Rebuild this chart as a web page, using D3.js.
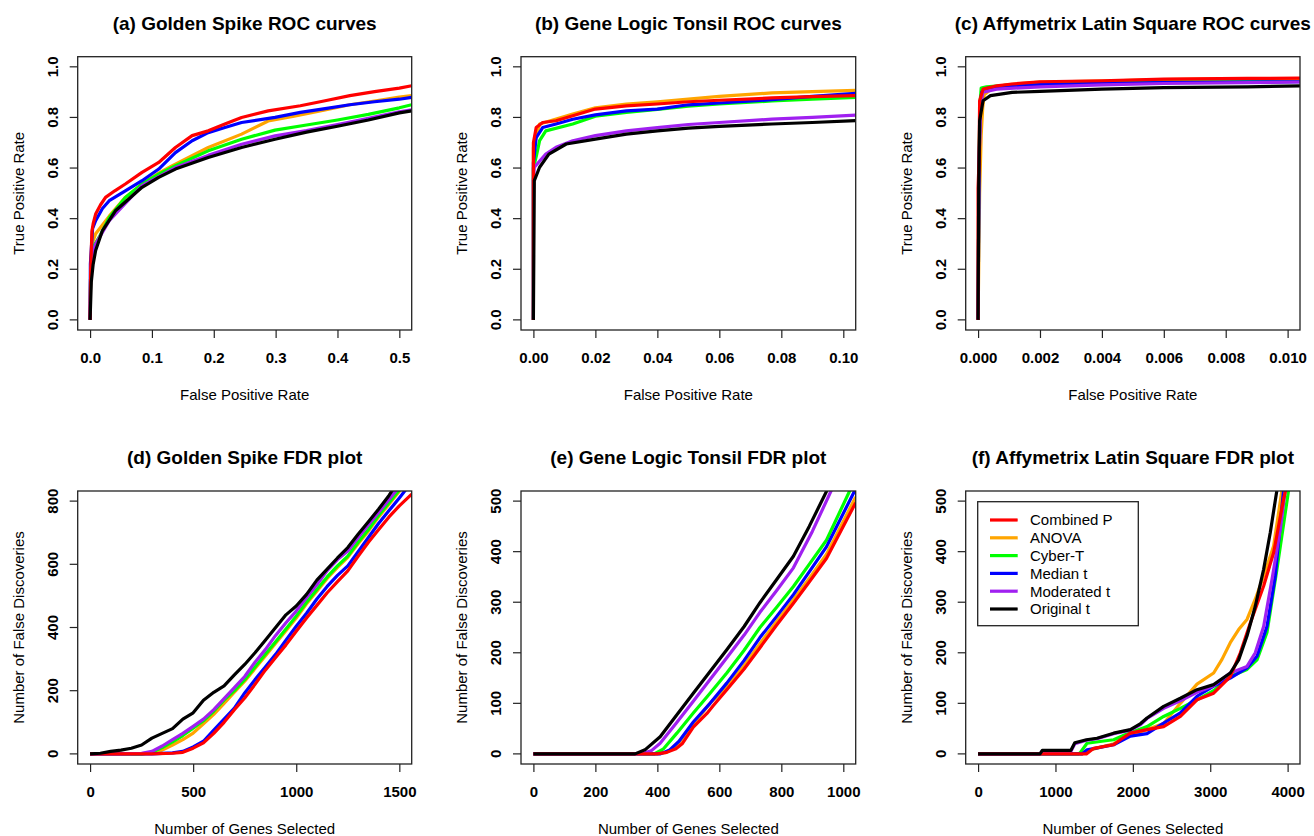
<!DOCTYPE html>
<html>
<head>
<meta charset="utf-8">
<script src="https://cdn.jsdelivr.net/npm/d3@7"></script>
<style>
  body { margin: 0; background: #fff; }
  svg { display: block; font-family: "Liberation Sans", Arial, sans-serif; }
</style>
</head>
<body>
<svg id="chart" width="1314" height="836"></svg>
<script>
// methods, colours (same order in every series list below)
const methods = ["Combined P", "ANOVA", "Cyber-T", "Median t", "Moderated t", "Original t"];
const colors = ["#FF0000", "#FFA500", "#00FF00", "#0000FF", "#A020F0", "#000000"];

// (a) Golden Spike ROC  [fpr, tpr]
const gsRoc = [
  [[0,0],[0.001,0.2],[0.003,0.35],[0.005,0.38],[0.009,0.418],[0.017,0.455],[0.025,0.484],[0.04,0.51],[0.057,0.537],[0.084,0.583],[0.111,0.622],[0.138,0.681],[0.165,0.728],[0.191,0.747],[0.218,0.774],[0.245,0.8],[0.288,0.826],[0.34,0.846],[0.38,0.866],[0.42,0.886],[0.46,0.902],[0.5,0.916],[0.52,0.925]],
  [[0,0],[0.001,0.2],[0.003,0.3],[0.009,0.34],[0.031,0.41],[0.057,0.484],[0.084,0.537],[0.111,0.58],[0.13,0.605],[0.149,0.629],[0.191,0.681],[0.245,0.734],[0.288,0.786],[0.33,0.805],[0.38,0.83],[0.42,0.85],[0.46,0.865],[0.5,0.88],[0.52,0.886]],
  [[0,0],[0.001,0.2],[0.003,0.28],[0.0145,0.326],[0.031,0.405],[0.057,0.484],[0.084,0.537],[0.111,0.576],[0.138,0.609],[0.191,0.668],[0.245,0.714],[0.299,0.75],[0.35,0.77],[0.4,0.79],[0.45,0.812],[0.5,0.838],[0.52,0.85]],
  [[0,0],[0.0005,0.22],[0.004,0.36],[0.009,0.392],[0.02,0.44],[0.031,0.471],[0.057,0.51],[0.084,0.55],[0.111,0.596],[0.138,0.661],[0.165,0.708],[0.191,0.74],[0.218,0.76],[0.245,0.78],[0.299,0.8],[0.34,0.82],[0.38,0.835],[0.42,0.85],[0.46,0.862],[0.5,0.872],[0.52,0.879]],
  [[0,0],[0.001,0.2],[0.004,0.26],[0.009,0.3],[0.031,0.392],[0.057,0.46],[0.084,0.53],[0.138,0.602],[0.191,0.65],[0.245,0.694],[0.299,0.727],[0.35,0.748],[0.4,0.772],[0.45,0.797],[0.5,0.822],[0.52,0.83]],
  [[0,0],[0.002,0.15],[0.005,0.22],[0.009,0.274],[0.02,0.353],[0.041,0.431],[0.084,0.524],[0.111,0.563],[0.138,0.596],[0.191,0.642],[0.245,0.681],[0.299,0.714],[0.35,0.742],[0.4,0.765],[0.45,0.79],[0.5,0.818],[0.52,0.826]]
];

// (b) Gene Logic Tonsil ROC
const glRoc = [
  [[0,0],[0,0.7],[0.0009,0.76],[0.003,0.78],[0.0073,0.787],[0.0127,0.807],[0.02,0.833],[0.03,0.846],[0.04,0.853],[0.05,0.862],[0.06,0.868],[0.077,0.877],[0.09,0.882],[0.104,0.886]],
  [[0,0],[0,0.68],[0.002,0.774],[0.0127,0.813],[0.02,0.838],[0.03,0.853],[0.04,0.862],[0.06,0.883],[0.077,0.897],[0.09,0.902],[0.104,0.907]],
  [[0,0],[0,0.6],[0.001,0.65],[0.002,0.708],[0.004,0.747],[0.0127,0.774],[0.02,0.805],[0.03,0.82],[0.04,0.832],[0.05,0.845],[0.06,0.853],[0.077,0.865],[0.09,0.872],[0.104,0.879]],
  [[0,0],[0,0.62],[0.0009,0.72],[0.003,0.76],[0.0073,0.774],[0.0127,0.793],[0.02,0.81],[0.03,0.826],[0.04,0.833],[0.05,0.85],[0.06,0.857],[0.077,0.87],[0.09,0.883],[0.104,0.895]],
  [[0,0],[0,0.55],[0.0003,0.603],[0.004,0.655],[0.0073,0.682],[0.0127,0.708],[0.02,0.728],[0.03,0.747],[0.04,0.76],[0.05,0.772],[0.06,0.78],[0.077,0.793],[0.09,0.8],[0.104,0.809]],
  [[0,0],[0.0003,0.55],[0.002,0.603],[0.005,0.655],[0.0106,0.695],[0.02,0.714],[0.03,0.734],[0.04,0.747],[0.05,0.758],[0.06,0.765],[0.077,0.774],[0.09,0.78],[0.104,0.787]]
];

// (c) Affymetrix Latin Square ROC
const lsRoc = [
  [[0,0],[0,0.52],[0.00003,0.63],[0.00005,0.866],[0.00016,0.912],[0.0006,0.925],[0.0011,0.932],[0.002,0.941],[0.004,0.945],[0.006,0.951],[0.0087,0.954],[0.0104,0.955]],
  [[0,0],[0.00005,0.5],[0.0001,0.73],[0.00015,0.84],[0.0002,0.89],[0.0005,0.92],[0.001,0.93],[0.002,0.94],[0.004,0.944],[0.006,0.95],[0.008,0.952],[0.0104,0.953]],
  [[0,0],[0.00003,0.6],[0.00006,0.85],[0.0001,0.916],[0.00027,0.921],[0.001,0.928],[0.002,0.935],[0.004,0.938],[0.006,0.94],[0.0104,0.942]],
  [[0,0],[0.00003,0.6],[0.00007,0.85],[0.00012,0.9],[0.0003,0.915],[0.001,0.925],[0.002,0.93],[0.004,0.935],[0.006,0.938],[0.0104,0.941]],
  [[0,0],[0.00003,0.6],[0.00008,0.85],[0.00016,0.9],[0.0006,0.912],[0.002,0.921],[0.004,0.929],[0.006,0.934],[0.0104,0.94]],
  [[0,0],[0.00002,0.52],[0.00005,0.787],[0.00016,0.866],[0.0004,0.886],[0.0011,0.899],[0.002,0.903],[0.004,0.912],[0.006,0.918],[0.0087,0.921],[0.0104,0.925]]
];

// (d) Golden Spike FDR  [genes selected, false discoveries]
const gsFdr = [
  [[0,0],[300,0],[400,2],[450,5],[500,18],[550,35],[600,65],[650,100],[700,140],[750,177],[800,220],[850,265],[900,305],[950,345],[1000,388],[1050,430],[1100,470],[1150,510],[1200,545],[1250,579],[1300,625],[1350,670],[1400,710],[1450,750],[1500,785],[1560,822]],
  [[0,0],[250,0],[300,3],[350,12],[400,28],[450,45],[500,66],[550,95],[600,125],[650,160],[700,195],[750,230],[800,270],[850,310],[900,350],[950,390],[1000,430],[1050,475],[1100,515],[1150,555],[1200,590],[1250,622],[1300,665],[1350,705],[1400,750],[1450,790],[1505,835]],
  [[0,0],[250,0],[300,5],[350,20],[400,38],[450,58],[500,81],[550,105],[600,135],[650,170],[700,200],[750,235],[800,275],[850,315],[900,355],[950,395],[1000,436],[1050,480],[1100,520],[1150,560],[1200,595],[1250,626],[1300,670],[1350,710],[1400,755],[1450,795],[1500,835]],
  [[0,0],[300,0],[400,3],[450,8],[500,22],[550,40],[600,75],[650,110],[700,145],[750,193],[800,235],[850,275],[900,315],[950,360],[1000,404],[1050,445],[1100,490],[1150,530],[1200,565],[1250,595],[1300,640],[1350,685],[1400,730],[1450,770],[1500,810],[1530,835]],
  [[0,0],[150,0],[250,2],[300,8],[350,25],[400,45],[450,65],[500,87],[550,110],[600,140],[650,175],[700,210],[750,245],[800,290],[850,330],[900,375],[950,415],[1000,452],[1050,495],[1100,535],[1150,580],[1200,615],[1250,642],[1300,685],[1350,725],[1400,765],[1450,805],[1490,838]],
  [[0,0],[50,2],[100,8],[150,12],[200,18],[250,28],[300,50],[350,65],[400,80],[450,110],[500,130],[550,170],[600,195],[650,215],[700,250],[750,283],[800,320],[850,360],[900,400],[950,440],[1000,468],[1050,505],[1100,550],[1150,585],[1200,620],[1250,653],[1300,695],[1350,735],[1400,775],[1450,818],[1470,838]]
];

// (e) Gene Logic Tonsil FDR
const glFdr = [
  [[0,0],[400,0],[430,3],[460,10],[480,20],[516,53],[560,80],[580,95],[624,127],[680,168],[731,210],[785,255],[839,298],[890,340],[946,387],[1040,497]],
  [[0,0],[390,0],[430,3],[460,15],[480,30],[516,58],[570,100],[624,133],[680,175],[731,218],[785,262],[839,305],[890,347],[946,395],[1040,508]],
  [[0,0],[390,0],[420,10],[463,41],[516,81],[570,120],[624,160],[680,205],[731,250],[785,290],[839,331],[890,375],[946,423],[1022,522]],
  [[0,0],[410,0],[440,8],[470,25],[516,63],[570,100],[624,140],[680,185],[731,230],[785,272],[839,315],[890,360],[946,410],[1038,522]],
  [[0,0],[350,0],[380,6],[409,21],[460,60],[516,104],[570,147],[624,190],[680,235],[731,280],[785,323],[839,368],[900,440],[962,522]],
  [[0,0],[328,0],[360,8],[409,34],[460,75],[516,120],[570,163],[624,206],[680,252],[731,299],[785,345],[839,391],[890,450],[948,522]]
];

// (f) Affymetrix Latin Square FDR
const lsFdr = [
  [[0,0],[1400,0],[1494,11],[1752,18],[1838,28],[1968,41],[2183,48],[2398,54],[2614,74],[2829,107],[3044,120],[3259,153],[3389,200],[3518,259],[3690,332],[3819,398],[3948,504],[3975,522]],
  [[0,0],[1350,0],[1450,8],[1752,20],[1968,38],[2183,48],[2398,60],[2614,100],[2829,138],[3044,160],[3152,187],[3259,220],[3367,246],[3475,266],[3582,306],[3690,352],[3819,411],[3927,522]],
  [[0,0],[1300,0],[1322,3],[1408,21],[1600,25],[1752,28],[1900,38],[2183,54],[2398,74],[2614,90],[2829,107],[3044,125],[3259,153],[3475,167],[3604,186],[3733,240],[3862,365],[4013,522]],
  [[0,0],[1343,0],[1408,8],[1752,18],[1968,35],[2183,40],[2398,61],[2614,81],[2829,114],[3044,134],[3259,150],[3475,170],[3604,193],[3733,252],[3841,352],[3948,522]],
  [[0,0],[800,0],[830,5],[1200,5],[1250,20],[1400,27],[1537,30],[1752,40],[1968,47],[2100,58],[2183,70],[2398,90],[2614,105],[2829,122],[3044,135],[3259,160],[3475,173],[3582,200],[3690,252],[3798,345],[3905,444],[3970,522]],
  [[0,0],[800,0],[830,7],[1200,7],[1250,22],[1400,28],[1537,31],[1752,41],[1968,48],[2100,60],[2183,71],[2398,94],[2614,110],[2829,127],[3044,137],[3259,160],[3367,186],[3475,233],[3582,292],[3690,365],[3776,438],[3862,522]]
];

// tick labels
const rocYTicks = ["0.0", "0.2", "0.4", "0.6", "0.8", "1.0"];
const gsRocXTicks = ["0.0", "0.1", "0.2", "0.3", "0.4", "0.5"];
const glRocXTicks = ["0.00", "0.02", "0.04", "0.06", "0.08", "0.10"];
const lsRocXTicks = ["0.000", "0.002", "0.004", "0.006", "0.008", "0.010"];
const gsFdrXTicks = ["0", "500", "1000", "1500"];
const gsFdrYTicks = ["0", "200", "400", "600", "800"];
const glFdrXTicks = ["0", "200", "400", "600", "800", "1000"];
const fdrYTicks = ["0", "100", "200", "300", "400", "500"];
const lsFdrXTicks = ["0", "1000", "2000", "3000", "4000"];

const panels = [
  { title: "(a) Golden Spike ROC curves", col: 0, row: 0, xlim: [0, 0.5], ylim: [0, 1], xt: gsRocXTicks, yt: rocYTicks, xlab: "False Positive Rate", ylab: "True Positive Rate", data: gsRoc },
  { title: "(b) Gene Logic Tonsil ROC curves", col: 1, row: 0, xlim: [0, 0.1], ylim: [0, 1], xt: glRocXTicks, yt: rocYTicks, xlab: "False Positive Rate", ylab: "True Positive Rate", data: glRoc },
  { title: "(c) Affymetrix Latin Square ROC curves", col: 2, row: 0, xlim: [0, 0.01], ylim: [0, 1], xt: lsRocXTicks, yt: rocYTicks, xlab: "False Positive Rate", ylab: "True Positive Rate", data: lsRoc },
  { title: "(d) Golden Spike FDR plot", col: 0, row: 1, xlim: [0, 1500], ylim: [0, 800], xt: gsFdrXTicks, yt: gsFdrYTicks, xlab: "Number of Genes Selected", ylab: "Number of False Discoveries", data: gsFdr },
  { title: "(e) Gene Logic Tonsil FDR plot", col: 1, row: 1, xlim: [0, 1000], ylim: [0, 500], xt: glFdrXTicks, yt: fdrYTicks, xlab: "Number of Genes Selected", ylab: "Number of False Discoveries", data: glFdr },
  { title: "(f) Affymetrix Latin Square FDR plot", col: 2, row: 1, xlim: [0, 4000], ylim: [0, 500], xt: lsFdrXTicks, yt: fdrYTicks, xlab: "Number of Genes Selected", ylab: "Number of False Discoveries", data: lsFdr, legend: true }
];

const colX = [[77.7, 411.7], [521, 855.7], [965.7, 1300]];
const rowY = [[56.7, 330], [491, 764]];
const drawOrder = [1, 2, 3, 4, 0, 5];

const svg = d3.select("#chart");

// R style: pad the limits by 4% on each side
function expand(d) {
  const r = d[1] - d[0];
  return [d[0] - 0.04 * r, d[1] + 0.04 * r];
}

panels.forEach((p, k) => {
  const [left, right] = colX[p.col];
  const [top, bottom] = rowY[p.row];
  const x = d3.scaleLinear().domain(expand(p.xlim)).range([left, right]);
  const y = d3.scaleLinear().domain(expand(p.ylim)).range([bottom, top]);
  const g = svg.append("g");

  g.append("clipPath").attr("id", "clip" + k)
    .append("rect").attr("x", left).attr("y", top)
    .attr("width", right - left).attr("height", bottom - top);

  const line = d3.line().x(d => x(d[0])).y(d => y(d[1]));
  const lines = g.append("g").attr("clip-path", `url(#clip${k})`);
  drawOrder.forEach(i => {
    lines.append("path")
      .datum(p.data[i])
      .attr("d", line)
      .attr("fill", "none")
      .attr("stroke", colors[i])
      .attr("stroke-width", 3.2)
      .attr("stroke-linejoin", "round");
  });

  g.append("rect")
    .attr("x", left).attr("y", top)
    .attr("width", right - left).attr("height", bottom - top)
    .attr("fill", "none").attr("stroke", "#222").attr("stroke-width", 1.3);

  // x axis
  const xa = g.append("g")
    .attr("transform", `translate(0,${bottom})`)
    .call(d3.axisBottom(x).tickValues(p.xt.map(Number)).tickFormat((d, i) => p.xt[i]).tickSize(8).tickPadding(14));
  xa.select(".domain").remove();
  xa.selectAll("line").attr("stroke", "#222").attr("stroke-width", 1.2);
  xa.selectAll("text").attr("font-size", 15).attr("font-weight", "bold")
    .attr("font-family", "Liberation Sans, Arial, sans-serif").attr("fill", "#000");

  // y axis (labels parallel to axis, like R)
  const ya = g.append("g").attr("transform", `translate(${left},0)`);
  p.yt.forEach(t => {
    const v = +t;
    ya.append("line").attr("x1", -8).attr("x2", 0).attr("y1", y(v)).attr("y2", y(v))
      .attr("stroke", "#222").attr("stroke-width", 1.2);
    ya.append("text")
      .attr("transform", `translate(-25,${y(v)}) rotate(-90)`)
      .attr("dy", "0.36em")
      .attr("text-anchor", "middle")
      .attr("font-size", 15).attr("font-weight", "bold")
      .text(t);
  });

  g.append("text")
    .attr("x", (left + right) / 2).attr("y", top - 27)
    .attr("text-anchor", "middle")
    .attr("font-size", 19).attr("font-weight", "bold")
    .text(p.title);

  g.append("text")
    .attr("x", (left + right) / 2).attr("y", bottom + 69.5)
    .attr("text-anchor", "middle")
    .attr("font-size", 15)
    .text(p.xlab);

  g.append("text")
    .attr("transform", `translate(${left - 59},${(top + bottom) / 2}) rotate(-90)`)
    .attr("dy", "0.36em")
    .attr("text-anchor", "middle")
    .attr("font-size", 15)
    .text(p.ylab);

  if (p.legend) {
    const lx = left + 12, ly = top + 10.7;
    const lg = g.append("g").attr("transform", `translate(${lx},${ly})`);
    lg.append("rect").attr("width", 160.6).attr("height", 124)
      .attr("fill", "#fff").attr("stroke", "#222").attr("stroke-width", 1.3);
    methods.forEach((m, i) => {
      const yy = 18.3 + i * 17.8;
      lg.append("line").attr("x1", 12.3).attr("x2", 40).attr("y1", yy).attr("y2", yy)
        .attr("stroke", colors[i]).attr("stroke-width", 3.2);
      lg.append("text").attr("x", 52.3).attr("y", yy).attr("dy", "0.36em")
        .attr("font-size", 15).text(m);
    });
  }
});
</script>
</body>
</html>
